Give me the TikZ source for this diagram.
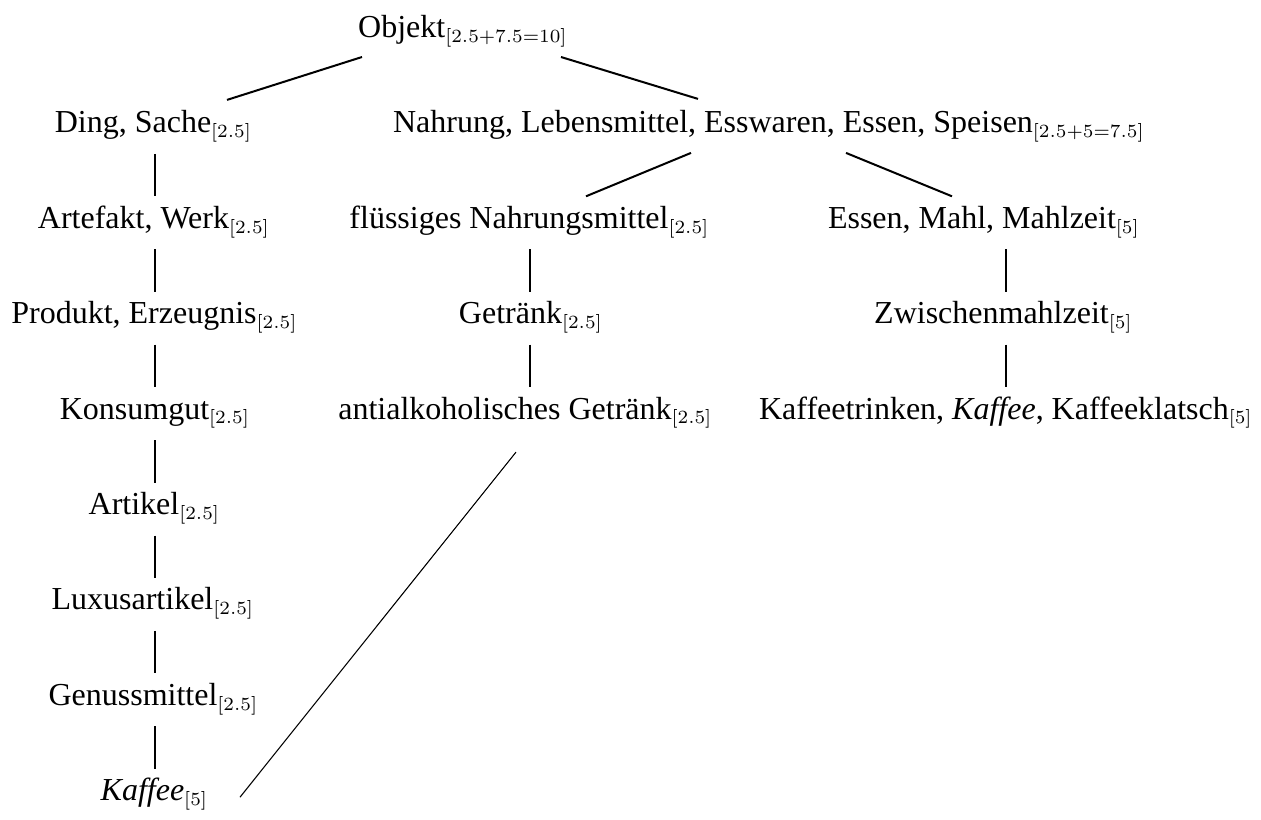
\documentclass[tikz,border=0pt]{standalone}
\usepackage[no-math]{fontspec}
\setmainfont{Liberation Serif}
\usetikzlibrary{calc}
\DeclareMathSizes{12}{12}{7.2}{5}
\tikzset{
  term/.style={anchor=base, inner sep=0pt, font=\fontsize{12}{14}\selectfont},
  edge/.style={line width=0.75pt},
  thinedge/.style={line width=0.4pt},
}
\begin{document}
\begin{tikzpicture}[x=0.375pt,y=-0.375pt]
\useasboundingbox (0,0) rectangle (1261,819);
% row baselines: 37.5 + 95.4 k
\node[term] (obj)   at (463,37.5)    {Objekt$_{[2.5+7.5=10]}$};
\node[term] (ding)  at (153.5,132.9) {Ding, Sache$_{[2.5]}$};
\node[term] (nahr)  at (769,132.9)   {Nahrung, Lebensmittel, Esswaren, Essen, Speisen$_{[2.5+5=7.5]}$};
\node[term] (arte)  at (154,228.3)   {Artefakt, Werk$_{[2.5]}$};
\node[term] (flue)  at (529.5,228.3) {flüssiges Nahrungsmittel$_{[2.5]}$};
\node[term] (essen) at (984,228.3)   {Essen, Mahl, Mahlzeit$_{[5]}$};
\node[term] (prod)  at (154.5,323.7) {Produkt, Erzeugnis$_{[2.5]}$};
\node[term] (getr)  at (531,323.7)   {Getränk$_{[2.5]}$};
\node[term] (zwi)   at (1003.5,323.7){Zwischenmahlzeit$_{[5]}$};
\node[term] (kons)  at (155,419.1)   {Konsumgut$_{[2.5]}$};
\node[term] (anti)  at (525.5,419.1) {antialkoholisches Getränk$_{[2.5]}$};
\node[term] (kaft)  at (1006,419.1)  {Kaffeetrinken, \textit{Kaffee}, Kaffeeklatsch$_{[5]}$};
\node[term] (arti)  at (154.5,514.5) {Artikel$_{[2.5]}$};
\node[term] (lux)   at (153,609.9)   {Luxusartikel$_{[2.5]}$};
\node[term] (gen)   at (153.5,705.3) {Genussmittel$_{[2.5]}$};
\node[term] (kaf)   at (154.5,800.7) {\textit{Kaffee}$_{[5]}$};

% upper diagonal edges
\draw[edge] ($(obj.base)+(-101,19.5)$) -- ($(ding.base)+(73.5,-33)$);
\draw[edge] ($(obj.base)+(98,19.5)$) -- ($(nahr.base)+(-71,-34)$);
\draw[edge] ($(nahr.base)+(-78,20)$) -- ($(flue.base)+(56.5,-32)$);
\draw[edge] ($(nahr.base)+(77,20)$) -- ($(essen.base)+(-32,-32)$);

% left column
\draw[edge] ($(ding.base)+(1,21)$) -- ($(ding.base |- arte.base)+(1,-32)$);
\draw[edge] ($(arte.base)+(0.5,21)$) -- ($(arte.base |- prod.base)+(0.5,-32)$);
\draw[edge] ($(prod.base)+(0,21)$) -- ($(prod.base |- kons.base)+(0,-32)$);
\draw[edge] ($(kons.base)+(-0.5,21)$) -- ($(kons.base |- arti.base)+(-0.5,-32)$);
\draw[edge] ($(arti.base)+(0,21)$) -- ($(arti.base |- lux.base)+(0,-32)$);
\draw[edge] ($(lux.base)+(1.5,21)$) -- ($(lux.base |- gen.base)+(1.5,-32)$);
\draw[edge] ($(gen.base)+(1,21)$) -- ($(gen.base |- kaf.base)+(1,-32)$);

% middle column
\draw[edge] ($(flue.base)+(0.5,21)$) -- ($(flue.base |- getr.base)+(0.5,-32)$);
\draw[edge] ($(getr.base)+(-1,21)$) -- ($(getr.base |- anti.base)+(-1,-32)$);

% right column
\draw[edge] ($(zwi.base |- essen.base)+(2.5,21)$) -- ($(zwi.base)+(2.5,-32)$);
\draw[edge] ($(zwi.base)+(2.5,21)$) -- ($(zwi.base |- kaft.base)+(2.5,-32)$);

% long thin diagonal
\draw[thinedge] ($(anti.base)+(-9.5,33)$) -- ($(kaf.base)+(85.5,-3.5)$);
\end{tikzpicture}
\end{document}
